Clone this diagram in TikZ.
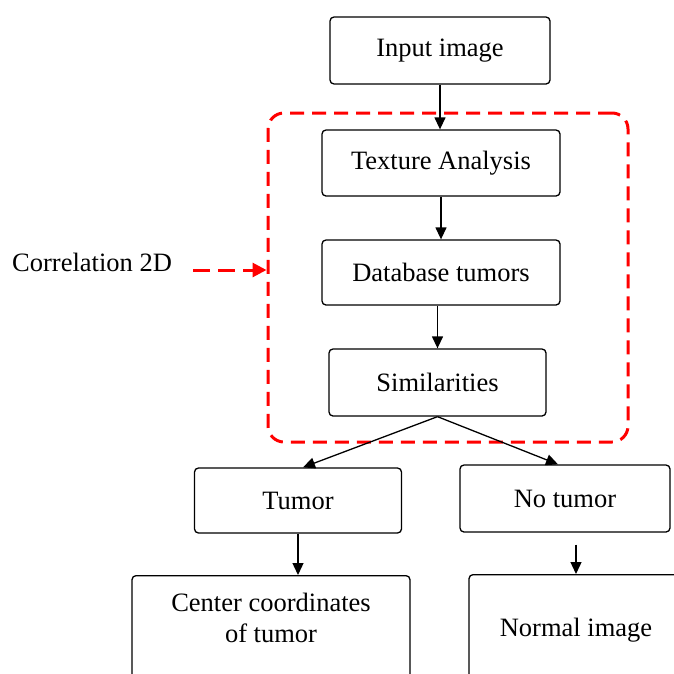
\documentclass[tikz,border=0pt]{standalone}
\usepackage{fontspec}
\setmainfont{Liberation Serif}
\usetikzlibrary{arrows.meta}

\tikzset{
  box/.style={draw, line width=1.3pt, rounded corners=4pt, fill=white, inner sep=0pt},
  flow/.style={line width=1.3pt, -{Triangle[length=12pt, width=11pt]}},
  corrbox/.style={draw=red, line width=3pt, dash pattern=on 14pt off 8pt, rounded corners=16pt, inner sep=0pt},
}

\begin{document}
\begin{tikzpicture}[x=1pt, y=-1pt]

\def\width{674}
\def\height{673}

\fontsize{26.5}{31}\selectfont
\path [use as bounding box] (0,0) rectangle (\width,\height);
\clip (0,0) rectangle (\width,\height);

% CORRELATION FRAME
\node [corrbox, minimum width=360pt, minimum height=329pt] (corr) at (448,277.5) {};

% BOXES
\node [box, minimum width=220pt, minimum height=67pt] (input) at (440,50.5) {Input image};
\node [box, minimum width=238pt, minimum height=66pt] (texture) at (441,163) {Texture Analysis};
\node [box, minimum width=238pt, minimum height=65pt] (database) at (441,272.5) {Database tumors};
\node [box, minimum width=217pt, minimum height=67pt] (simil) at (437.5,382.5) {Similarities};
\node [box, minimum width=207pt, minimum height=65pt] (tumor) at (298,500.5) {Tumor};
\node [box, minimum width=210pt, minimum height=67pt] (notumor) at (565,498.5) {No tumor};

% RESULTS (cut by the frame)
\node [box, anchor=north, align=center, minimum width=278pt, text height=67pt, text depth=60pt] (center) at (271,575) {Center coordinates\\of tumor};
\node [box, anchor=north, minimum width=214pt, text height=62pt, text depth=60pt] (normal) at (576,574) {Normal image};

% ARROWS
\draw [flow] (input) -- (input |- texture.north);
\draw [flow] (texture) -- (texture |- database.north);
\draw [flow] (database.south -| simil) -- (simil.north);
\draw [flow] (simil.south) -- ([xshift=5pt]tumor.north);
\draw [flow] (simil.south) -- ([xshift=-7pt]notumor.north);
\draw [flow] (tumor.south) -- (tumor.south |- center.north);
\draw [flow] ([yshift=-12pt]notumor.south -| normal.north) -- (normal.north);

% LABEL
\node [anchor=west, inner sep=0pt] (corrlabel) at (12,262) {Correlation 2D};
\coordinate (corrstart) at (193,270);
\draw [red, line width=3pt, dash pattern=on 17pt off 8pt, -{Triangle[length=14pt, width=14pt]}] (corrstart) -- (corr.west |- corrstart);

\end{tikzpicture}
\end{document}
